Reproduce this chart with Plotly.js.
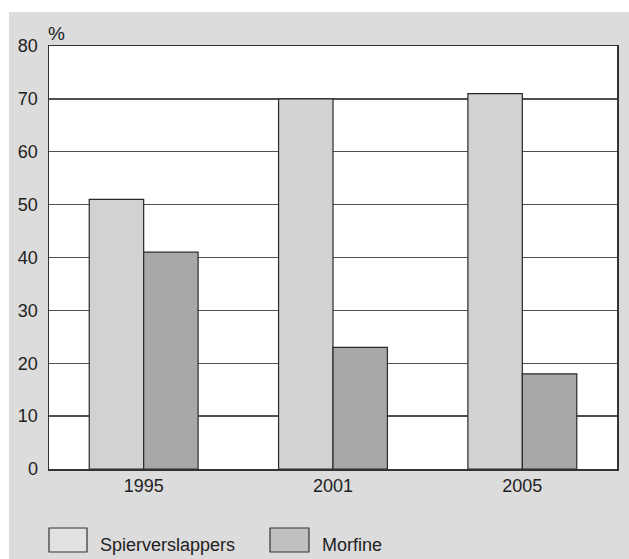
<!DOCTYPE html>
<html>
<head>
<meta charset="utf-8">
<script src="https://cdn.plot.ly/plotly-3.0.1.min.js"></script>
<style>
  html, body { margin: 0; padding: 0; background: #ffffff; }
  #chart { width: 629px; height: 559px; }
</style>
</head>
<body>
<div id="chart"></div>
<script>
// Years on the category axis
const years = ['1995', '2001', '2005'];

// Share of use (%) per year
const seriesNames = ['Spierverslappers', 'Morfine'];
const spierverslappers = [51, 70, 71];
const morfine = [41, 23, 18];

// Y axis ticks
const yTicks = [0, 10, 20, 30, 40, 50, 60, 70, 80];

const barFill = ['#d2d2d4', '#a8a8ab'];
const keyFill = ['#e2e2e4', '#c0c0c2'];
const font = 'Liberation Sans, Arial, Helvetica, sans-serif';

const traces = [spierverslappers, morfine].map((vals, i) => ({
  type: 'bar',
  name: seriesNames[i],
  x: years,
  y: vals,
  marker: { color: barFill[i], line: { color: '#2a2a2a', width: 1.2 } },
  hoverinfo: 'x+y+name'
}));

// Hand-drawn key below the plot: box + label for each series
const keyX = [[0, 0.0669], [0.3891, 0.4577]];
const keyTextX = [0.0863, 0.4771];
const keyShapes = keyX.map((xs, i) => ({
  type: 'rect', xref: 'paper', yref: 'paper',
  x0: xs[0], x1: xs[1], y0: -0.1962, y1: -0.1395,
  fillcolor: keyFill[i], line: { color: '#333333', width: 1.2 }
}));
const keyLabels = seriesNames.map((name, i) => ({
  xref: 'paper', yref: 'paper', x: keyTextX[i], y: -0.1797,
  xanchor: 'left', yanchor: 'middle', showarrow: false,
  text: name, font: { family: font, size: 18, color: '#222222' }
}));

// White margin strips above and left of the grey panel
const marginShapes = [
  { type: 'rect', xref: 'paper', yref: 'paper', x0: -0.2, x1: 1.2, y0: 1.0804, y1: 1.2,
    fillcolor: '#ffffff', line: { width: 0 }, layer: 'below' },
  { type: 'rect', xref: 'paper', yref: 'paper', x0: -0.2, x1: -0.0704, y0: -0.3, y1: 1.2,
    fillcolor: '#ffffff', line: { width: 0 }, layer: 'below' }
];

const layout = {
  width: 629,
  height: 559,
  margin: { l: 49, r: 12, t: 46, b: 90, pad: 0 },
  paper_bgcolor: '#dcdcdd',
  plot_bgcolor: '#ffffff',
  showlegend: false,
  barmode: 'group',
  bargap: 0.425,
  bargroupgap: 0,
  font: { family: font, size: 18, color: '#222222' },
  xaxis: {
    type: 'category',
    showgrid: false,
    showline: true, linecolor: '#333333', linewidth: 1.5, mirror: true,
    ticks: '', ticklen: 0,
    tickfont: { family: font, size: 18, color: '#222222' },
    fixedrange: true
  },
  yaxis: {
    range: [0, 80],
    tickvals: yTicks,
    ticktext: yTicks.map(String),
    showgrid: true, gridcolor: '#505050', gridwidth: 1.3,
    showline: true, linecolor: '#333333', linewidth: 1.5, mirror: true,
    zeroline: false,
    ticks: '', ticklen: 0,
    ticklabelstandoff: 6,
    tickfont: { family: font, size: 18, color: '#222222' },
    fixedrange: true
  },
  shapes: marginShapes.concat(keyShapes),
  annotations: [
    { xref: 'paper', yref: 'paper', x: -0.006, y: 1.0307, xanchor: 'left', yanchor: 'middle',
      showarrow: false, text: '%', font: { family: font, size: 19, color: '#222222' } }
  ].concat(keyLabels)
};

Plotly.newPlot('chart', traces, layout, { displayModeBar: false, staticPlot: true });
</script>
</body>
</html>
